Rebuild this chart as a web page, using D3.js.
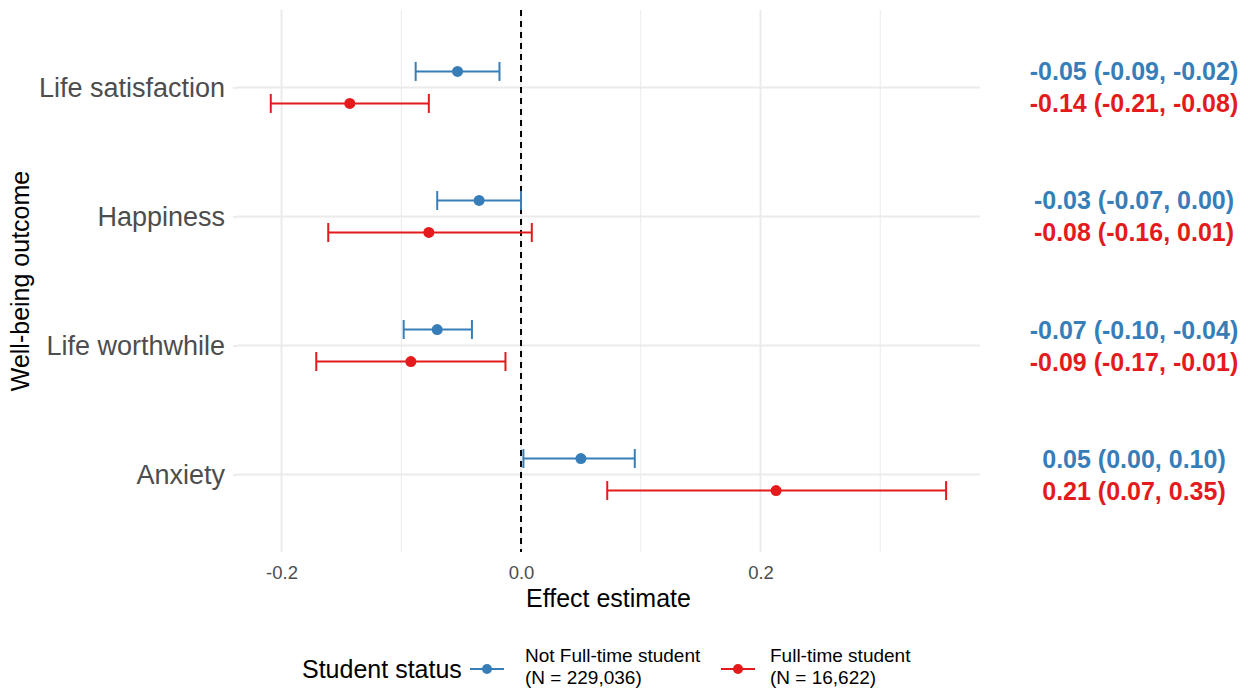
<!DOCTYPE html>
<html>
<head>
<meta charset="utf-8">
<script src="https://cdn.jsdelivr.net/npm/d3@7"></script>
<style>
  body { margin: 0; background: #fff; }
  svg { font-family: "Liberation Sans", Arial, sans-serif; }
</style>
</head>
<body>
<svg width="1248" height="695"></svg>
<script>
// outcomes, top to bottom
var outcomes = ["Life satisfaction", "Happiness", "Life worthwhile", "Anxiety"];

// Not full-time students
var notFtEst   = [-0.053, -0.035, -0.070, 0.050];
var notFtLower = [-0.088, -0.070, -0.098, 0.002];
var notFtUpper = [-0.018,  0.000, -0.041, 0.095];
var notFtText  = ["-0.05 (-0.09, -0.02)", "-0.03 (-0.07, 0.00)", "-0.07 (-0.10, -0.04)", "0.05 (0.00, 0.10)"];

// Full-time students
var ftEst   = [-0.143, -0.077, -0.092, 0.213];
var ftLower = [-0.209, -0.161, -0.171, 0.072];
var ftUpper = [-0.077,  0.009, -0.013, 0.355];
var ftText  = ["-0.14 (-0.21, -0.08)", "-0.08 (-0.16, 0.01)", "-0.09 (-0.17, -0.01)", "0.21 (0.07, 0.35)"];

var groups = ["Not Full-time student", "Full-time student"];
var groupN = ["(N = 229,036)", "(N = 16,622)"];
var colors = ["#377EB8", "#E41A1C"];
var xTicks = [-0.2, 0.0, 0.2];
var xMinor = [-0.1, 0.1, 0.3];

var svg = d3.select("svg");

var panel = {left: 237, right: 980, top: 10, bottom: 552};

var x = d3.scaleLinear()
  .domain([-0.2372, 0.3833])
  .range([panel.left, panel.right]);

var y = d3.scalePoint()
  .domain(outcomes)
  .range([panel.top, panel.bottom])
  .padding(0.6);

// build rows for both groups
var rows = [];
outcomes.forEach(function(o, i) {
  rows.push({outcome: o, g: 0, est: notFtEst[i], lo: notFtLower[i], hi: notFtUpper[i], label: notFtText[i], dy: -16});
  rows.push({outcome: o, g: 1, est: ftEst[i], lo: ftLower[i], hi: ftUpper[i], label: ftText[i], dy: 16});
});

// grid
var grid = svg.append("g").attr("class", "grid");
grid.selectAll("line.minor")
  .data(xMinor)
  .enter().append("line")
  .attr("x1", function(d) { return x(d); })
  .attr("x2", function(d) { return x(d); })
  .attr("y1", panel.top).attr("y2", panel.bottom)
  .attr("stroke", "#ebebeb").attr("stroke-width", 1);
grid.selectAll("line.major")
  .data(xTicks)
  .enter().append("line")
  .attr("x1", function(d) { return x(d); })
  .attr("x2", function(d) { return x(d); })
  .attr("y1", panel.top).attr("y2", panel.bottom)
  .attr("stroke", "#ebebeb").attr("stroke-width", 2);
grid.selectAll("line.h")
  .data(outcomes)
  .enter().append("line")
  .attr("x1", panel.left).attr("x2", panel.right)
  .attr("y1", function(d) { return y(d); })
  .attr("y2", function(d) { return y(d); })
  .attr("stroke", "#ebebeb").attr("stroke-width", 2);

// zero reference line
svg.append("line")
  .attr("x1", x(0)).attr("x2", x(0))
  .attr("y1", panel.top).attr("y2", panel.bottom)
  .attr("stroke", "#000").attr("stroke-width", 2)
  .attr("stroke-dasharray", "6,5");

// error bars
var bars = svg.append("g").selectAll("g")
  .data(rows)
  .enter().append("g")
  .attr("stroke", function(d) { return colors[d.g]; })
  .attr("stroke-width", 2);

bars.append("line")
  .attr("x1", function(d) { return x(d.lo); })
  .attr("x2", function(d) { return x(d.hi); })
  .attr("y1", function(d) { return y(d.outcome) + d.dy; })
  .attr("y2", function(d) { return y(d.outcome) + d.dy; });
bars.append("line")
  .attr("x1", function(d) { return x(d.lo); })
  .attr("x2", function(d) { return x(d.lo); })
  .attr("y1", function(d) { return y(d.outcome) + d.dy - 9.5; })
  .attr("y2", function(d) { return y(d.outcome) + d.dy + 9.5; });
bars.append("line")
  .attr("x1", function(d) { return x(d.hi); })
  .attr("x2", function(d) { return x(d.hi); })
  .attr("y1", function(d) { return y(d.outcome) + d.dy - 9.5; })
  .attr("y2", function(d) { return y(d.outcome) + d.dy + 9.5; });

svg.append("g").selectAll("circle")
  .data(rows)
  .enter().append("circle")
  .attr("cx", function(d) { return x(d.est); })
  .attr("cy", function(d) { return y(d.outcome) + d.dy; })
  .attr("r", 5.5)
  .attr("fill", function(d) { return colors[d.g]; });

// estimate labels on the right
svg.append("g").selectAll("text")
  .data(rows)
  .enter().append("text")
  .attr("x", 1134)
  .attr("y", function(d) { return y(d.outcome) + d.dy; })
  .attr("dy", "0.36em")
  .attr("text-anchor", "middle")
  .attr("font-size", 25)
  .attr("font-weight", "bold")
  .attr("fill", function(d) { return colors[d.g]; })
  .text(function(d) { return d.label; });

// axes
var xAxis = svg.append("g")
  .attr("transform", "translate(0," + panel.bottom + ")")
  .call(d3.axisBottom(x).tickValues(xTicks).tickSize(0).tickPadding(14));
xAxis.select(".domain").remove();
xAxis.selectAll("text").attr("font-size", 18.5).attr("fill", "#4d4d4d")
  .attr("font-family", "Liberation Sans, Arial, sans-serif")
  .text(function(d) { return d3.format(".1f")(d).replace("−", "-"); });

var yAxis = svg.append("g")
  .attr("transform", "translate(" + panel.left + ",0)")
  .call(d3.axisLeft(y).tickSize(4).tickPadding(8));
yAxis.select(".domain").remove();
yAxis.selectAll("line").attr("stroke", "#ebebeb").attr("stroke-width", 2);
yAxis.selectAll("text").attr("font-size", 27).attr("fill", "#4d4d4d")
  .attr("font-family", "Liberation Sans, Arial, sans-serif");

// axis titles
svg.append("text")
  .attr("x", (panel.left + panel.right) / 2)
  .attr("y", 607)
  .attr("text-anchor", "middle")
  .attr("font-size", 25)
  .text("Effect estimate");

svg.append("text")
  .attr("transform", "translate(29," + ((panel.top + panel.bottom) / 2) + ") rotate(-90)")
  .attr("text-anchor", "middle")
  .attr("font-size", 25)
  .text("Well-being outcome");

// legend
var legend = svg.append("g");
legend.append("text")
  .attr("x", 302).attr("y", 678)
  .attr("font-size", 25)
  .text("Student status");

var keyX = [487, 738];
var labelX = [525, 770];
var item = legend.selectAll("g.item")
  .data(groups)
  .enter().append("g");
item.append("line")
  .attr("x1", function(d, i) { return keyX[i] - 17; })
  .attr("x2", function(d, i) { return keyX[i] + 17; })
  .attr("y1", 669).attr("y2", 669)
  .attr("stroke", function(d, i) { return colors[i]; })
  .attr("stroke-width", 2);
item.append("circle")
  .attr("cx", function(d, i) { return keyX[i]; })
  .attr("cy", 669).attr("r", 5)
  .attr("fill", function(d, i) { return colors[i]; });
item.append("text")
  .attr("x", function(d, i) { return labelX[i]; })
  .attr("y", 662)
  .attr("font-size", 19)
  .text(function(d) { return d; });
item.append("text")
  .attr("x", function(d, i) { return labelX[i]; })
  .attr("y", 684)
  .attr("font-size", 19)
  .text(function(d, i) { return groupN[i]; });
</script>
</body>
</html>
